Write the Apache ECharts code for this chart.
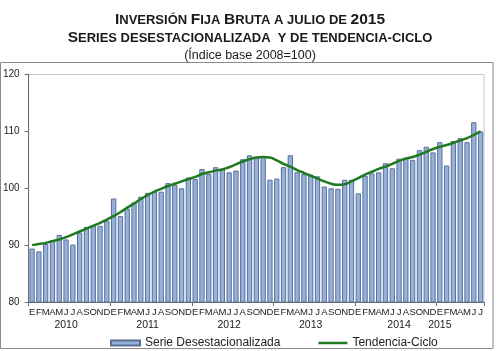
<!DOCTYPE html>
<html>
<head>
<meta charset="utf-8">
<script src="https://cdn.jsdelivr.net/npm/echarts@6/dist/echarts.min.js"></script>
<style>
  html, body { margin: 0; padding: 0; background: #fff; }
  #chart { width: 500px; height: 351px; }
</style>
</head>
<body>
<div id="chart"></div>
<script>

// month initials (Spanish) and years covered
var monthLetters = ['E', 'F', 'M', 'A', 'M', 'J', 'J', 'A', 'S', 'O', 'N', 'D'];
var years = ['2010', '2011', '2012', '2013', '2014', '2015'];
var monthsInLastYear = 7; // up to julio 2015

// Serie desestacionalizada, ene 2010 - jul 2015
var serieDesest = [
    89.4, 88.9, 90.2, 90.9, 91.8, 91.0, 90.1, 92.2, 93.2, 93.5, 93.4, 94.3,
    98.2, 95.1, 96.4, 97.5, 98.5, 99.2, 99.4, 99.4, 100.9, 100.6, 100.0, 101.9,
    101.6, 103.4, 102.5, 103.7, 103.4, 102.8, 103.1, 105.1, 105.8, 105.4, 105.6, 101.5,
    101.7, 103.7, 105.8, 102.8, 102.5, 102.4, 102.1, 100.3, 100.0, 99.9, 101.5, 101.5,
    99.1, 102.2, 102.6, 102.8, 104.4, 103.5, 105.2, 105.4, 105.0, 106.7, 107.3, 106.3,
    108.1, 104.0, 108.3, 108.8, 108.1, 111.6, 110.0
];

// Tendencia-ciclo
var tendencia = [
    90.0, 90.2, 90.4, 90.7, 91.0, 91.4, 91.9, 92.4, 92.9, 93.4, 93.9, 94.5,
    95.1, 95.8, 96.6, 97.3, 98.1, 98.8, 99.4, 99.9, 100.4, 100.8, 101.2, 101.6,
    102.0, 102.5, 102.8, 103.1, 103.3, 103.7, 104.2, 104.7, 105.1, 105.4, 105.5, 105.4,
    104.9, 104.3, 103.8, 103.2, 102.7, 102.2, 101.7, 101.2, 100.8, 100.6, 100.7, 101.2,
    101.8, 102.4, 102.9, 103.4, 103.8, 104.3, 104.8, 105.2, 105.5, 105.9, 106.4, 106.9,
    107.3, 107.6, 108.0, 108.4, 108.8, 109.4, 110.0
];

// y axis
var yMin = 80, yMax = 120, yStep = 10;

// build category list
var categories = [];
var yearOfCat = [];
for (var y = 0; y < years.length; y++) {
    var n = (y == years.length - 1) ? monthsInLastYear : 12;
    for (var m = 0; m < n; m++) {
        categories.push(monthLetters[m]);
        yearOfCat.push(years[y]);
    }
}

// which category carries the year label (roughly mid-year, as in the original)
var yearLabelAt = { 5: '2010', 17: '2011', 29: '2012', 41: '2013', 54: '2014', 60: '2015' };

var FONT = "'Liberation Sans', Arial, sans-serif";

var chart = echarts.init(document.getElementById('chart'), null, { renderer: 'canvas' });

var option = {
    animation: false,
    textStyle: { fontFamily: FONT },
    title: [
        {
            left: 'center', top: 7,
            text: '{a|I}{b|NVERSIÓN }{a|F}{b|IJA }{a|B}{b|RUTA A JULIO DE }{a|2015}',
            textStyle: {
                rich: {
                    a: { fontFamily: FONT, fontWeight: 'bold', fontSize: 15.5, color: '#1a1a1a' },
                    b: { fontFamily: FONT, fontWeight: 'bold', fontSize: 13, color: '#1a1a1a' }
                }
            }
        },
        {
            left: 'center', top: 25,
            text: '{a|S}{b|ERIES DESESTACIONALIZADA  Y DE TENDENCIA-CICLO}',
            textStyle: {
                rich: {
                    a: { fontFamily: FONT, fontWeight: 'bold', fontSize: 15.5, color: '#1a1a1a' },
                    b: { fontFamily: FONT, fontWeight: 'bold', fontSize: 13, color: '#1a1a1a' }
                }
            }
        },
        {
            left: 'center', top: 44,
            text: '(Índice base 2008=100)',
            textStyle: { fontFamily: FONT, fontWeight: 'normal', fontSize: 12.5, color: '#1a1a1a' }
        }
    ],
    graphic: [
        {
            type: 'rect',
            shape: { x: 0.5, y: 62.5, width: 492.5, height: 286 },
            style: { fill: 'none', stroke: '#8a8a8a', lineWidth: 1 },
            silent: true
        }
    ],
    legend: {
        left: 105, top: 332,
        itemGap: 38,
        itemWidth: 29, itemHeight: 5,
        textStyle: { fontFamily: FONT, fontSize: 12, color: '#222' },
        data: [
            { name: 'Serie Desestacionalizada', icon: 'rect' },
            { name: 'Tendencia-Ciclo', icon: 'path://M0,0 L29,0 L29,2.5 L0,2.5 Z' }
        ]
    },
    grid: {
        left: 28, right: 16, top: 74.5, bottom: 49,
        show: true, borderColor: '#c8c8c8', borderWidth: 1
    },
    xAxis: [
        {
            type: 'category',
            data: categories,
            boundaryGap: true,
            axisLine: { lineStyle: { color: '#6e6e6e', width: 1 } },
            axisTick: {
                show: true, length: 4,
                interval: function (idx) { return idx % 12 == 0; },
                lineStyle: { color: '#6e6e6e' }
            },
            axisLabel: {
                interval: 0, margin: 5,
                showMinLabel: true, showMaxLabel: true, hideOverlap: false,
                fontFamily: FONT,
                fontSize: 9.5, color: '#222'
            }
        },
        {
            type: 'category',
            data: yearOfCat,
            position: 'bottom',
            offset: 13,
            axisLine: { show: false },
            axisTick: { show: false },
            axisLabel: {
                interval: 0, margin: 5,
                fontFamily: FONT, fontSize: 10.5, color: '#222',
                formatter: function (val, idx) { return yearLabelAt[idx] || ''; }
            }
        }
    ],
    yAxis: {
        type: 'value',
        min: yMin, max: yMax, interval: yStep,
        axisLine: { show: true, lineStyle: { color: '#6e6e6e' } },
        axisTick: { show: true, length: 4, lineStyle: { color: '#6e6e6e' } },
        splitLine: { show: false },
        axisLabel: { fontFamily: FONT, fontSize: 10, color: '#222', margin: 9 }
    },
    series: [
        {
            name: 'Serie Desestacionalizada',
            type: 'bar',
            data: serieDesest,
            barCategoryGap: '22%',
            itemStyle: { color: '#95b2dc', borderColor: '#5a6f98', borderWidth: 1 }
        },
        {
            name: 'Tendencia-Ciclo',
            type: 'line',
            data: tendencia,
            smooth: true,
            symbol: 'none',
            lineStyle: { color: '#1e7a1e', width: 2.5 },
            itemStyle: { color: '#1e7a1e' }
        }
    ]
};

option && chart.setOption(option);
</script>
</body>
</html>
